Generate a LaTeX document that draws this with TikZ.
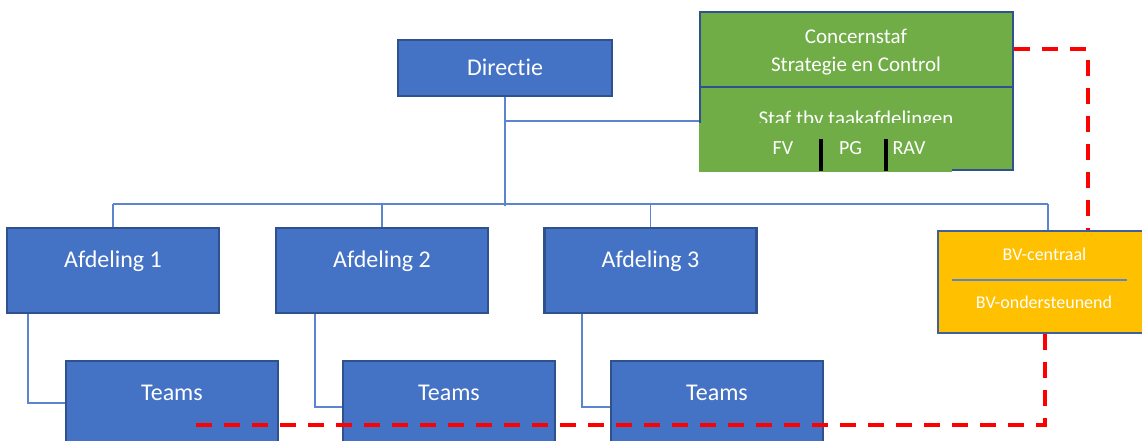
\documentclass[tikz,border=0pt]{standalone}
\usepackage{fontspec}
\setmainfont{Carlito}[Ligatures=NoCommon]
\usetikzlibrary{backgrounds}
\definecolor{boxblue}{HTML}{4472C4}
\definecolor{boxedge}{HTML}{2F528F}
\definecolor{linkblue}{HTML}{5B86CF}
\definecolor{stafgreen}{HTML}{70AD47}
\definecolor{bvyellow}{HTML}{FFC000}
\definecolor{bvedge}{HTML}{41609A}
\definecolor{dashred}{HTML}{FF0000}

\begin{document}
\begin{tikzpicture}[x=1pt,y=-1pt,
  unit/.style={draw=boxedge, line width=2.5pt, fill=boxblue, text=white,
    inner sep=0pt, minimum width=212pt, minimum height=85pt,
    font=\fontsize{24}{28}\selectfont, text height=16.5pt, text depth=23.5pt},
  stafbox/.style={draw=boxedge, line width=2.5pt, fill=stafgreen, inner sep=0pt},
  stafsec/.style={fill=stafgreen, inner sep=0pt},
  bvbox/.style={draw=bvedge, line width=2.5pt, fill=bvyellow, inner sep=0pt},
  lbl/.style={text=white, inner sep=0pt, anchor=base},
  big/.style={lbl, font=\fontsize{21}{25}\selectfont},
  mid/.style={lbl, font=\fontsize{20}{24}\selectfont},
  small/.style={lbl, font=\fontsize{18}{22}\selectfont},
  link/.style={draw=linkblue, line width=1.4pt},
  divider/.style={draw=linkblue, line width=1.2pt},
  bar/.style={draw=black, line width=4pt},
  redlink/.style={draw=dashred, line width=4pt, dash pattern=on 16pt off 12pt}
]
\useasboundingbox (0,0) rectangle (1142,441);
\clip (0,0) rectangle (1142,441);

% junction points of the tree
\coordinate (busL) at (113,204);
\coordinate (busR) at (1048,204);
\coordinate (dirfoot) at (505,206);
\coordinate (stafjoin) at (505,121);
\coordinate (k1) at (28,403);
\coordinate (k2) at (315,407);
\coordinate (k3) at (582,407);
\coordinate (rfree) at (196,425);
\coordinate (rcorner) at (1045,425);
\coordinate (rtop) at (1088,49.5);

% boxes
\node[unit, minimum width=214pt, minimum height=56pt, text depth=1.5pt] (dir) at (505,68) {Directie};
\node[unit] (a1) at (113,270.5) {Afdeling 1};
\node[unit] (a2) at (382,270.5) {Afdeling 2};
\node[unit] (a3) at (650.5,270.5) {Afdeling 3};
\node[unit] (t1) at (172,403.5) {Teams};
\node[unit] (t2) at (449,403.5) {Teams};
\node[unit] (t3) at (717,403.5) {Teams};

% staff block
\node[stafbox, minimum width=313pt, minimum height=75pt] (cstaf) at (856.5,49.5) {};
\node[stafbox, minimum width=313pt, minimum height=83pt] (staf) at (856.5,128.5) {};
\node[big] (cs1) at (856,44) {Concernstaf};
\node[big] (cs2) at (856,72) {Strategie en Control};
\node[big] (st1) at (856,125.5) {Staf tbv taakafdelingen};
\node[stafsec, minimum width=253.5pt, minimum height=48.3pt, anchor=north west] (sec) at (698.5,123) {};
\node[mid] (fv) at (783,154) {FV};
\node[mid] (pg) at (850.5,154) {PG};
\node[mid] (rav) at (909,154) {RAV};
\draw[bar] (821,139) -- (821,171);
\draw[bar] (886,139) -- (886,171);

% support block
\node[bvbox, minimum width=213pt, minimum height=102pt] (bv) at (1044.5,282) {};
\node[small] (bv1) at (1044.5,260) {BV-centraal};
\node[small] (bv2) at (1044,308) {BV-ondersteunend};
\draw[divider] (952,280) -- (1127,280);

% tree connectors, kept behind the boxes
\begin{scope}[on background layer]
\draw[link] (dir.south) -- (dirfoot);
\draw[link] (stafjoin) -- (stafjoin -| staf.west);
\draw[link] (busL) -- (busR);
\draw[link] (a1.north) -- (a1.north |- busL);
\draw[link] (a2.north) -- (a2.north |- busL);
\draw[link] (a3.north) -- (a3.north |- busL);
\draw[link] (busR) -- (busR |- bv.north);
\draw[link] (k1 |- a1.south) -- (k1) -- (k1 -| t1.west);
\draw[link] (k2 |- a2.south) -- (k2) -- (k2 -| t2.west);
\draw[link] (k3 |- a3.south) -- (k3) -- (k3 -| t3.west);
\end{scope}

% dashed links of the support block
\draw[redlink] (cstaf.east) -- (rtop) -- (rtop |- bv.north);
\draw[redlink] (rcorner |- bv.south) -- (rcorner) -- (rfree);
\end{tikzpicture}
\end{document}
